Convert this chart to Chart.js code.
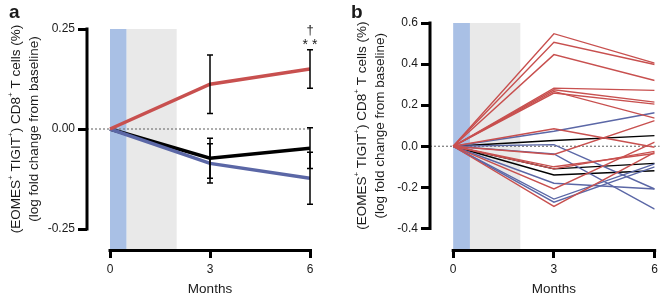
<!DOCTYPE html>
<html>
<head>
<meta charset="utf-8">
<script src="https://cdn.jsdelivr.net/npm/chart.js@4.4.1/dist/chart.umd.min.js"></script>
<style>
    body { margin: 0; background: #fff; }
    .panel { position: absolute; top: 0; width: 331px; height: 297px; }
</style>
</head>
<body>
<div class="panel" style="left:0"><canvas id="chartA"></canvas></div>
<div class="panel" style="left:331px"><canvas id="chartB"></canvas></div>
<script>
// Месяцы наблюдения
const months = [0, 3, 6];
const xTicks = [0, 3, 6];

// Панель a: средние значения по группам и ошибки
const aRed = [0, 0.112, 0.150];
const aRedErr = [0, 0.073, 0.048];
const aBlue = [0, -0.086, -0.123];
const aBlueErr = [0, 0.049, 0.065];
const aBlack = [0, -0.073, -0.048];
const aBlackErr = [0, 0.050, 0.051];
const aYTicks = [0.25, 0, -0.25];

// Панель b: отдельные пациенты (значения на 3 и 6 месяце, старт всегда 0)
const bRed3 = [0.548, 0.506, 0.446, 0.283, 0.275, 0.267, 0.259, 0.085, -0.040, -0.100, -0.110, -0.208, -0.293];
const bRed6 = [0.405, 0.398, 0.320, 0.272, 0.215, 0.137, 0.205, -0.005, 0.125, -0.035, -0.025, 0.020, -0.030];
const bBlue3 = [0.073, 0.008, -0.037, -0.180, -0.257, -0.272];
const bBlue6 = [0.163, -0.208, -0.306, -0.208, -0.086, -0.100];
const bBlack3 = [0.028, -0.110, -0.140];
const bBlack6 = [0.052, -0.083, -0.119];
const bYTicks = [0.6, 0.4, 0.2, 0, -0.2, -0.4];

// Периоды терапии (затенение)
const shadeBlue = [0, 0.5];
const shadeGrey = [0.5, 2];

const RED = '#c8504f';
const BLUE = '#5b67a6';
const BLACK = '#000000';
const TEXT = '#1a1a1a';
const FONT = '"Liberation Sans", Arial, Helvetica, sans-serif';

const yTitle1 = [
    { t: '(EOMES' }, { t: '+', sup: true }, { t: ' TIGIT' }, { t: '+', sup: true },
    { t: ') CD8' }, { t: '+', sup: true }, { t: ' T cells (%)' }
];
const yTitle2 = [{ t: '(log fold change from baseline)' }];

function lineDataset(values, color, width) {
    return {
        data: months.map((m, i) => ({ x: m, y: values[i] })),
        borderColor: color,
        borderWidth: width,
        pointRadius: 0,
        fill: false,
        tension: 0
    };
}

function drawRich(ctx, parts, cx, cy, size) {
    const big = `${size}px ${FONT}`;
    const small = `${Math.round(size * 0.62)}px ${FONT}`;
    let total = 0;
    parts.forEach(p => {
        ctx.font = p.sup ? small : big;
        total += ctx.measureText(p.t).width;
    });
    let x = cx - total / 2;
    ctx.textBaseline = 'middle';
    ctx.textAlign = 'left';
    parts.forEach(p => {
        ctx.font = p.sup ? small : big;
        ctx.fillText(p.t, x, p.sup ? cy - size * 0.35 : cy);
        x += ctx.measureText(p.t).width;
    });
}

function makeScales(yMin, yMax, yTicks, yWidth, digits) {
    return {
        x: {
            type: 'linear',
            min: -0.69,
            max: 6,
            afterBuildTicks: s => { s.ticks = xTicks.map(v => ({ value: v })); },
            afterFit: s => { s.height = 48; },
            border: { display: false },
            grid: { drawOnChartArea: false, color: BLACK, lineWidth: 3, tickLength: 9 },
            ticks: {
                color: TEXT, padding: 4, maxRotation: 0, autoSkip: false,
                font: { family: FONT, size: 12 },
                callback: v => String(v)
            }
        },
        y: {
            min: yMin,
            max: yMax,
            afterBuildTicks: s => { s.ticks = yTicks.map(v => ({ value: v })); },
            afterFit: s => { s.width = yWidth; },
            border: { display: false },
            grid: { drawOnChartArea: false, color: BLACK, lineWidth: 3, tickLength: 9 },
            ticks: {
                color: TEXT, padding: 3, autoSkip: false,
                font: { family: FONT, size: 12 },
                callback: v => Number(v).toFixed(digits)
            }
        }
    };
}

function decorPlugin(cfg) {
    return {
        id: 'decor',
        beforeDatasetsDraw(chart) {
            const { ctx, chartArea, scales: { x, y } } = chart;
            ctx.save();
            ctx.fillStyle = '#a9c0e5';
            ctx.fillRect(x.getPixelForValue(shadeBlue[0]), chartArea.top,
                x.getPixelForValue(shadeBlue[1]) - x.getPixelForValue(shadeBlue[0]), chartArea.bottom - chartArea.top);
            ctx.fillStyle = '#e9e9e9';
            ctx.fillRect(x.getPixelForValue(shadeGrey[0]), chartArea.top,
                x.getPixelForValue(shadeGrey[1]) - x.getPixelForValue(shadeGrey[0]), chartArea.bottom - chartArea.top);

            // пунктир по нулю
            ctx.strokeStyle = '#777';
            ctx.lineWidth = 1.2;
            ctx.setLineDash([2, 2]);
            ctx.beginPath();
            ctx.moveTo(chartArea.left, y.getPixelForValue(0));
            ctx.lineTo(x.getPixelForValue(6) + cfg.zeroExtra, y.getPixelForValue(0));
            ctx.stroke();
            ctx.restore();
        },
        afterDatasetsDraw(chart) {
            const { ctx, chartArea, scales: { x, y } } = chart;
            ctx.save();

            // планки ошибок
            (cfg.errors || []).forEach(([vals, errs]) => {
                ctx.strokeStyle = BLACK;
                ctx.lineWidth = 1.5;
                months.forEach((m, i) => {
                    if (!errs[i]) return;
                    const px = x.getPixelForValue(m);
                    const top = y.getPixelForValue(vals[i] + errs[i]);
                    const bot = y.getPixelForValue(vals[i] - errs[i]);
                    ctx.beginPath();
                    ctx.moveTo(px, top); ctx.lineTo(px, bot);
                    ctx.moveTo(px - 3, top); ctx.lineTo(px + 3, top);
                    ctx.moveTo(px - 3, bot); ctx.lineTo(px + 3, bot);
                    ctx.stroke();
                });
            });

            // оси
            ctx.strokeStyle = BLACK;
            ctx.lineWidth = 3;
            ctx.beginPath();
            ctx.moveTo(chartArea.left, y.getPixelForValue(cfg.yTicks[0]) - 1.5);
            ctx.lineTo(chartArea.left, y.getPixelForValue(cfg.yTicks[cfg.yTicks.length - 1]) + 1.5);
            const xy = chartArea.bottom + 1.5;
            ctx.moveTo(x.getPixelForValue(0) - 1.5, xy);
            ctx.lineTo(x.getPixelForValue(6) + 1.5, xy);
            ctx.stroke();

            // подписи
            ctx.fillStyle = TEXT;
            const midY = (y.getPixelForValue(cfg.yTicks[0]) + y.getPixelForValue(cfg.yTicks[cfg.yTicks.length - 1])) / 2;
            ctx.save();
            ctx.translate(cfg.title1X, midY);
            ctx.rotate(-Math.PI / 2);
            drawRich(ctx, yTitle1, 0, 0, 13.5);
            ctx.restore();
            ctx.save();
            ctx.translate(cfg.title2X, midY);
            ctx.rotate(-Math.PI / 2);
            drawRich(ctx, yTitle2, 0, 0, 13.5);
            ctx.restore();

            ctx.textAlign = 'center';
            ctx.textBaseline = 'middle';
            ctx.font = `13.5px ${FONT}`;
            ctx.fillText('Months', x.getPixelForValue(3), 289);

            ctx.font = `bold 19px ${FONT}`;
            ctx.textAlign = 'left';
            ctx.textBaseline = 'alphabetic';
            ctx.fillText(cfg.letter, cfg.letterX, 18);

            if (cfg.marks) {
                const px = x.getPixelForValue(6);
                const top = y.getPixelForValue(aRed[2] + aRedErr[2]);
                ctx.textAlign = 'center';
                ctx.textBaseline = 'middle';
                ctx.font = `14px ${FONT}`;
                ctx.fillText('* *', px, top - 5);
                ctx.font = `13px ${FONT}`;
                ctx.fillText('\u2020', px, top - 19);
            }
            ctx.restore();
        }
    };
}

Chart.defaults.animation = false;

new Chart(document.getElementById('chartA'), {
    type: 'line',
    data: {
        datasets: [
            lineDataset(aRed, RED, 3.5),
            lineDataset(aBlue, BLUE, 3.5),
            lineDataset(aBlack, BLACK, 3.5)
        ]
    },
    options: {
        responsive: true,
        maintainAspectRatio: false,
        layout: { padding: { top: 29, right: 21, left: 0, bottom: 0 } },
        scales: makeScales(-0.30, 0.25, aYTicks, 87, 2),
        plugins: { legend: { display: false }, tooltip: { enabled: false } }
    },
    plugins: [decorPlugin({
        yTicks: aYTicks, title1X: 16, title2X: 34, letter: 'a', letterX: 9, zeroExtra: 0, marks: true,
        errors: [[aRed, aRedErr], [aBlue, aBlueErr], [aBlack, aBlackErr]]
    })]
});

const bDatasets = [];
bRed3.forEach((v, i) => bDatasets.push(lineDataset([0, v, bRed6[i]], RED, 1.4)));
bBlue3.forEach((v, i) => bDatasets.push(lineDataset([0, v, bBlue6[i]], BLUE, 1.4)));
bBlack3.forEach((v, i) => bDatasets.push(lineDataset([0, v, bBlack6[i]], BLACK, 1.4)));

new Chart(document.getElementById('chartB'), {
    type: 'line',
    data: { datasets: bDatasets },
    options: {
        responsive: true,
        maintainAspectRatio: false,
        layout: { padding: { top: 23, right: 5, left: 0, bottom: 0 } },
        scales: makeScales(-0.5, 0.6, bYTicks, 99, 1),
        plugins: { legend: { display: false }, tooltip: { enabled: false } }
    },
    plugins: [decorPlugin({
        yTicks: bYTicks, title1X: 31, title2X: 49, letter: 'b', letterX: 20, zeroExtra: 5, marks: false
    })]
});
</script>
</body>
</html>
